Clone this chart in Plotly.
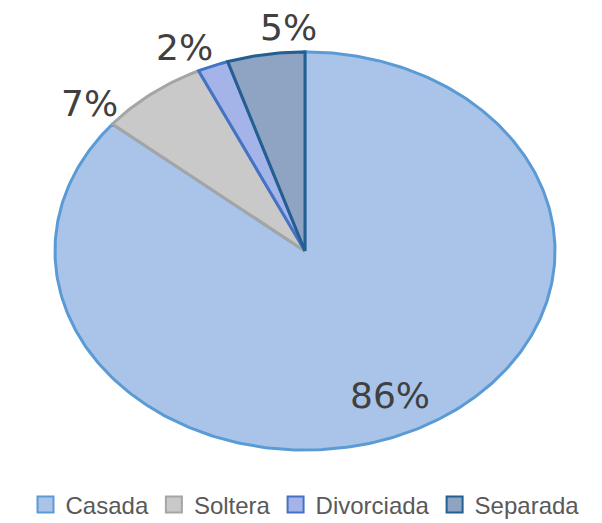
import numpy as np
import plotly.graph_objects as go

labels = ["Casada", "Soltera", "Divorciada", "Separada"]
values = [86, 7, 2, 5]

fill_colors = ["#a9c4e8", "#c9c9c9", "#a4b3e8", "#8fa3c2"]
line_colors = ["#5b9bd5", "#a5a5a5", "#4472c4", "#255e91"]
# label placement: radius factor along the mid angle, plus pixel nudges
label_radius = [0.8, 1.0, 1.0, 1.0]
label_shift = [(0, 0), (-62, -10), (-28, 18), (23, 27)]

fig = go.Figure()

total = sum(values)
start = 0.0
for name, val, fc, lc, rad, (dx, dy) in zip(
    labels, values, fill_colors, line_colors, label_radius, label_shift
):
    frac0, frac1 = start / total, (start + val) / total
    # clockwise from 12 o'clock, like the original chart
    theta = np.radians(90 - 360 * np.linspace(frac0, frac1, int(400 * val / total) + 2))
    xs = np.concatenate([[0], np.cos(theta), [0]])
    ys = np.concatenate([[0], np.sin(theta), [0]])
    fig.add_trace(
        go.Scatter(
            x=xs,
            y=ys,
            mode="lines",
            fill="toself",
            fillcolor=fc,
            line=dict(color=lc, width=3),
            name=name,
            legendgroup=name,
            showlegend=False,
            hoverinfo="name",
        )
    )
    # legend entry with a square swatch
    fig.add_trace(
        go.Scatter(
            x=[None],
            y=[None],
            mode="markers",
            marker=dict(symbol="square", size=17, color=fc, line=dict(color=lc, width=2)),
            name=name,
            legendgroup=name,
        )
    )
    mid = np.radians(90 - 360 * (frac0 + frac1) / 2)
    fig.add_annotation(
        x=rad * np.cos(mid),
        y=rad * np.sin(mid),
        text=f"{round(100 * val / total)}%",
        showarrow=False,
        xshift=dx,
        yshift=dy,
        font=dict(family="DejaVu Sans", size=36, color="#404040"),
    )
    start += val

# full-width plot area so the one-row legend has room
fig.update_xaxes(visible=False, range=[-1.188, 1.188], fixedrange=True)
fig.update_yaxes(visible=False, range=[-1.1, 1.1], fixedrange=True)

# page body keeps its default 8px margin, so the figure is sized to fit inside
fig.update_layout(
    width=594,
    height=515,
    paper_bgcolor="white",
    plot_bgcolor="white",
    margin=dict(l=0, r=0, t=24, b=53, autoexpand=False),
    showlegend=True,
    legend=dict(
        orientation="h",
        xref="container",
        yref="container",
        x=0.5,
        xanchor="center",
        y=0.035,
        yanchor="middle",
        font=dict(family="Liberation Sans", size=24, color="#595959"),
        itemwidth=30,
    ),
)

fig.write_html("out.html")
